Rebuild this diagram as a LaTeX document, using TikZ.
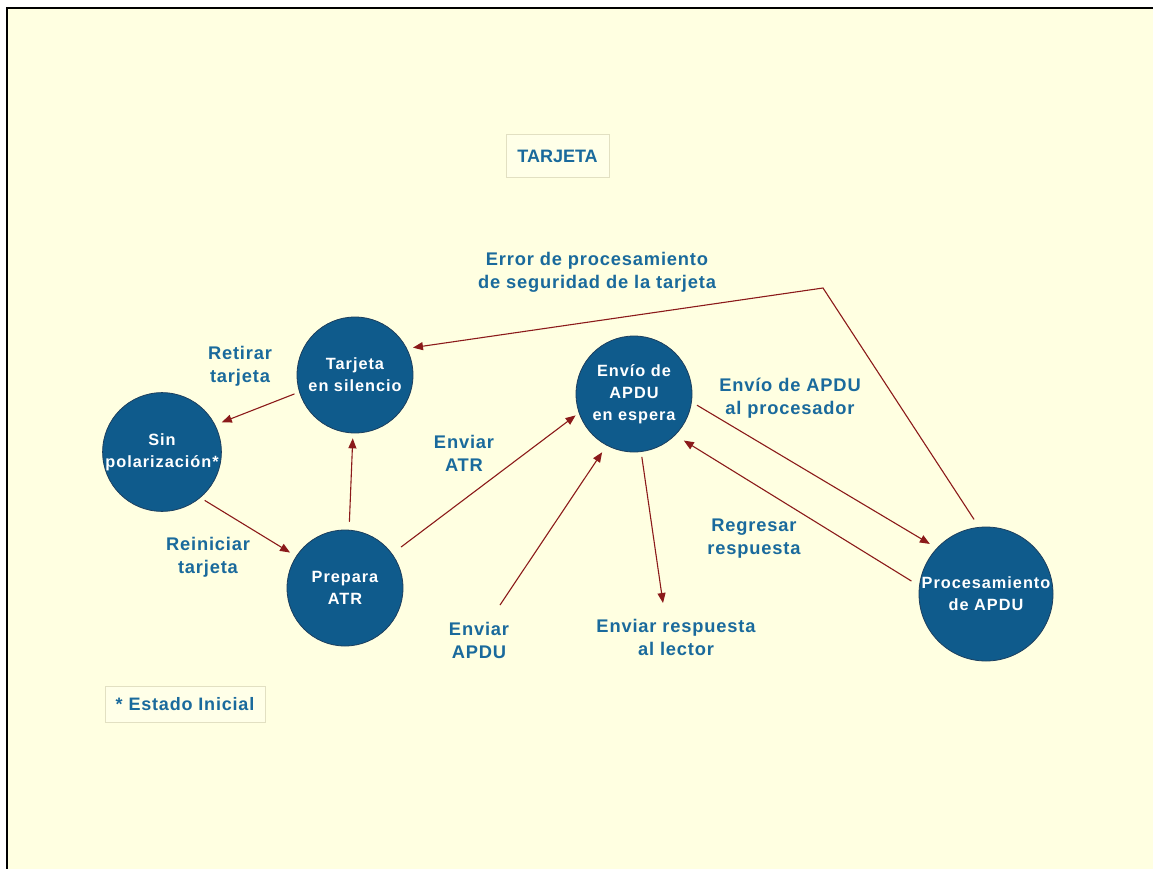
\documentclass[tikz,border=0pt]{standalone}
\usepackage{fontspec}
\setmainfont{Liberation Sans}
\newfontfamily\wideface[LetterSpace=4.5]{Liberation Sans}
\newfontfamily\nodeface[LetterSpace=6]{Liberation Sans}
\usetikzlibrary{arrows.meta}
\definecolor{bg}{HTML}{FFFFE1}
\definecolor{nodefill}{HTML}{0F5B8C}
\definecolor{nodeline}{HTML}{1C3F5E}
\definecolor{lbl}{HTML}{1A6A9C}
\definecolor{arr}{HTML}{8B1A1A}
\definecolor{boxline}{HTML}{E2E0C2}
\definecolor{boxfill}{HTML}{FFFFE8}
\tikzset{
  state/.style={circle, fill=nodefill, draw=nodeline, line width=0.8pt, inner sep=0pt,
    text=white, font=\nodeface\fontsize{16.3}{22}\selectfont\bfseries, align=center},
  lab/.style={text=lbl, font=\wideface\fontsize{18.3}{23}\selectfont\bfseries, align=center, inner sep=0pt},
  conn/.style={draw=arr, line width=1.1pt, -{Triangle[length=10pt,width=8pt]}},
  infobox/.style={draw=boxline, fill=boxfill, line width=1pt, text=lbl,
    font=\fontsize{18}{22}\selectfont\bfseries, inner sep=0pt}
}
\begin{document}
\begin{tikzpicture}[x=1pt,y=-1pt]
\useasboundingbox (0,0) rectangle (1153,869);
\fill[white] (0,0) rectangle (1153,869);
\fill[bg] (7,8.5) rectangle (1153,869);
\draw[line width=2pt] (7,869) -- (7,8.5) -- (1153,8.5);

% boxes
\node[infobox, minimum width=103pt, minimum height=43pt] (title) at (557.5,156.5) {TARJETA};
\node[infobox, minimum width=160pt, minimum height=36pt, font=\wideface\fontsize{18}{22}\selectfont\bfseries] (legend) at (185,704) {* Estado Inicial};

% states
\node[state, minimum size=116pt] (T) at (355,375) {Tarjeta\\en silencio};
\node[state, minimum size=114pt] (S) at (162,452) {Sin\\polarización*};
\node[state, minimum size=116pt] (P) at (345,588) {Prepara\\ATR};
\node[state, minimum size=116pt] (E) at (634,394) {Envío de\\APDU\\en espera};
\node[state, minimum size=134pt] (R) at (986,594) {Procesamiento\\de APDU};

% labels
\node[lab] (lerr) at (597,272) {Error de procesamiento\\de seguridad de la tarjeta};
\node[lab] (lret) at (240,366) {Retirar\\tarjeta};
\node[lab] (lrei) at (208,557) {Reiniciar\\tarjeta};
\node[lab] (latr) at (464,453.5) {Enviar\\ATR};
\node[lab] (lenv) at (790,398.5) {Envío de APDU\\al procesador};
\node[lab] (lreg) at (754,538.5) {Regresar\\respuesta};
\node[lab] (lapdu) at (479,640.5) {Enviar\\APDU};
\node[lab] (lresp) at (676,637.5) {Enviar respuesta\\al lector};

% free ends
\coordinate (apduStart) at (500,605);
\coordinate (respEnd) at (663,603);
\coordinate (corner) at (823,288);

% connectors
\draw[conn, shorten <=5pt, shorten >=7pt] (T.197.6) -- (S.27.3);
\draw[conn, shorten <=5pt, shorten >=7pt] (S.-50.2) -- (P.147.5);
\draw[conn, shorten <=8pt, shorten >=5pt] (P.86.5) -- (T.268);
\draw[conn, shorten <=11pt, shorten >=4pt] (P.36.2) -- (E.199.6);
\draw[conn, shorten >=8pt] (apduStart) -- (E.242.3);
\draw[conn, shorten <=5pt] (E.277) -- (respEnd);
\draw[conn, shorten <=9pt, shorten >=10pt] (R.173) -- (E.-45.6);
\draw[conn, shorten <=6pt, shorten >=8pt] (E.-8) -- (R.137.7);
\draw[conn, shorten <=9pt, shorten >=6pt] (R.96.8) -- (corner) -- (T.27);
\end{tikzpicture}
\end{document}
